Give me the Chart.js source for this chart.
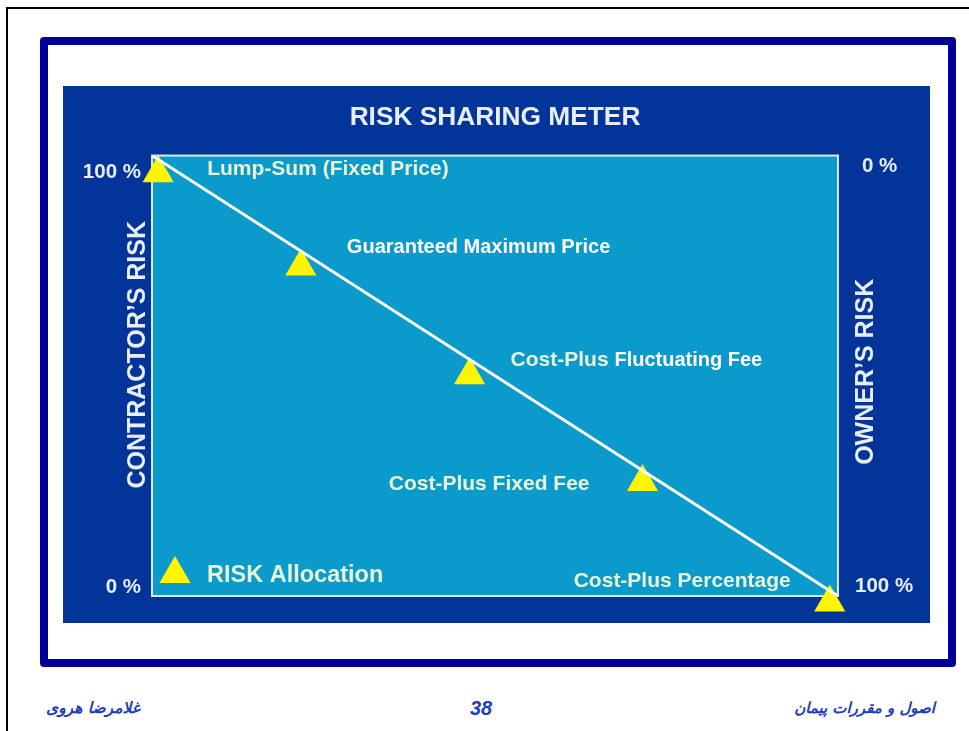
<!DOCTYPE html>
<html>
<head>
<meta charset="utf-8">
<script src="https://cdn.jsdelivr.net/npm/chart.js@4.4.1/dist/chart.umd.min.js"></script>
<style>
  body { margin: 0; background: #fff; width: 969px; height: 731px; overflow: hidden; position: relative; }
  #page { position: absolute; left: 6px; top: 7px; width: 1000px; height: 760px;
          border-top: 2px solid #000; border-left: 2px solid #000; }
  #frame { position: absolute; left: 40px; top: 37px; width: 900px; height: 614px;
           border: 8px solid #000099; border-radius: 4px; }
  #panel { position: absolute; left: 63px; top: 86px; width: 867px; height: 537px; background: #02349A; }
  .foot { position: absolute; top: 696px; line-height: 24px; color: #1E3EC0;
          font-family: "DejaVu Sans", sans-serif; font-weight: bold; font-style: italic; }
</style>
</head>
<body>
<div id="page"></div>
<div id="frame"></div>
<div id="panel"><canvas id="meter" width="867" height="537"></canvas></div>
<div class="foot" style="left:46px; font-size:15.5px;" dir="rtl">غلامرضا هروی</div>
<div class="foot" style="left:470px; font-size:20px; font-family:'Liberation Sans', Arial, sans-serif;">38</div>
<div class="foot" style="right:34px; font-size:15px;" dir="rtl">اصول و مقررات پیمان</div>
<script>
// types de contrat, de gauche (risque entrepreneur max) a droite
const categories = ['Lump-Sum (Fixed Price)', 'Guaranteed Maximum Price', 'Cost-Plus Fluctuating Fee', 'Cost-Plus Fixed Fee', 'Cost-Plus Percentage'];
const positionX = [0.9, 21.7, 46.3, 71.5, 98.8];
const contractorRisk = [96.0, 74.8, 50.1, 25.9, -1.5];

// ligne de partage du risque
const lineX = [0, 100];
const lineY = [100, 0];

// graduations : risque entrepreneur (gauche) et proprietaire (droite)
const contractorTicks = [100, 0];
const contractorTickLabels = ['100 %', '0 %'];
const ownerTicks = [0, 100];
const ownerTickLabels = ['0 %', '100 %'];

const FONT = '"Liberation Sans", Arial, sans-serif';
const PALE = '#E9F3D6';
const WHITE = '#FFFFFF';

const meterDecor = {
  id: 'meterDecor',
  beforeDatasetsDraw(chart, args, opts) {
    const { ctx, chartArea: a } = chart;
    ctx.save();
    ctx.fillStyle = opts.plotColor;
    ctx.fillRect(a.left, a.top, a.width, a.height);
    ctx.strokeStyle = opts.borderColor;
    ctx.lineWidth = 2;
    ctx.strokeRect(a.left, a.top, a.width, a.height);
    ctx.restore();
  },
  afterDatasetsDraw(chart, args, opts) {
    const { ctx, chartArea: a, scales } = chart;
    const y = scales.y;
    ctx.save();
    ctx.textBaseline = 'middle';
    ctx.textAlign = 'left';

    // etiquettes des points (partie pale en 21px, partie blanche en 20px)
    const paleFont = 'bold 21px ' + FONT;
    const whiteFont = 'bold 20px ' + FONT;
    const pts = chart.getDatasetMeta(1).data;
    categories.forEach((t, i) => {
      const st = opts.labels[i];
      const p = pts[i];
      const words = t.split(' ');
      const paleTxt = words.slice(0, st.pale).join(' ');
      const whiteTxt = words.slice(st.pale).join(' ');
      ctx.font = paleFont;
      const wp = paleTxt ? ctx.measureText(paleTxt + (whiteTxt ? ' ' : '')).width : 0;
      ctx.font = whiteFont;
      const ww = whiteTxt ? ctx.measureText(whiteTxt).width : 0;
      let x = p.x + st.dx;
      const ty = p.y + st.dy;
      if (st.align === 'right') x -= wp + ww;
      if (paleTxt) {
        ctx.font = paleFont;
        ctx.fillStyle = PALE;
        ctx.fillText(paleTxt, x, ty);
      }
      if (whiteTxt) {
        ctx.font = whiteFont;
        ctx.fillStyle = WHITE;
        ctx.fillText(whiteTxt, x + wp, ty);
      }
    });

    // graduations
    ctx.font = 'bold 20.5px ' + FONT;
    ctx.fillStyle = '#E8EEF8';
    contractorTicks.forEach((v, i) => {
      ctx.textAlign = 'right';
      ctx.fillText(contractorTickLabels[i], a.left - 11, y.getPixelForValue(v) + opts.leftTickDy[i]);
    });
    ownerTicks.forEach((v, i) => {
      ctx.textAlign = 'left';
      ctx.fillText(ownerTickLabels[i], a.right + opts.rightTickDx[i], y.getPixelForValue(100 - v) + opts.rightTickDy[i]);
    });

    // titres verticaux
    ctx.font = 'bold 25px ' + FONT;
    ctx.textAlign = 'center';
    const mid = y.getPixelForValue(50);
    [['CONTRACTOR\u2019S RISK', a.left - 14, mid - 21], ['OWNER\u2019S RISK', a.right + 28, mid - 4]].forEach(([t, x, yy]) => {
      ctx.save();
      ctx.translate(x, yy);
      ctx.rotate(-Math.PI / 2);
      ctx.fillText(t, 0, 0);
      ctx.restore();
    });

    // legende
    const ds = chart.data.datasets[1];
    const lx = a.left + 23, ly = a.bottom - 22;
    ctx.fillStyle = ds.backgroundColor;
    Chart.helpers.drawPoint(ctx, { pointStyle: 'triangle', radius: ds.pointRadius, rotation: 0, borderWidth: 0 }, lx, ly);
    ctx.font = 'bold 23.5px ' + FONT;
    ctx.textAlign = 'left';
    ctx.fillStyle = PALE;
    ctx.fillText(ds.label, lx + 32, ly + 2);
    ctx.restore();
  }
};

new Chart(document.getElementById('meter'), {
  type: 'scatter',
  data: {
    datasets: [
      {
        label: 'Risk line',
        data: lineX.map((x, i) => ({ x, y: lineY[i] })),
        showLine: true,
        borderColor: '#FFFFFF',
        borderWidth: 3,
        pointRadius: 0
      },
      {
        label: 'RISK Allocation',
        data: positionX.map((x, i) => ({ x, y: contractorRisk[i] })),
        pointStyle: 'triangle',
        pointRadius: 18,
        pointHoverRadius: 18,
        backgroundColor: '#FFF500',
        borderColor: '#FFF500',
        borderWidth: 0,
        clip: false
      }
    ]
  },
  options: {
    responsive: false,
    animation: false,
    events: [],
    layout: { padding: { left: 89, right: 92, bottom: 27, top: 0 } },
    scales: {
      x: { type: 'linear', min: 0, max: 100, display: false },
      y: { type: 'linear', min: 0, max: 100, display: false }
    },
    plugins: {
      legend: { display: false },
      tooltip: { enabled: false },
      title: {
        display: true,
        text: 'RISK SHARING METER',
        color: '#E8EEF8',
        font: { size: 26.3, weight: 'bold', family: FONT },
        padding: { top: 16, bottom: 22 }
      },
      meterDecor: {
        plotColor: '#0A9BCC',
        borderColor: '#DDE9E6',
        labels: [
          { dx: 49, dy: -4, align: 'left', pale: 99 },
          { dx: 46, dy: -19, align: 'left', pale: 0 },
          { dx: 41, dy: -15, align: 'left', pale: 1 },
          { dx: -53, dy: 2, align: 'right', pale: 99 },
          { dx: -39, dy: -21, align: 'right', pale: 99 }
        ],
        leftTickDy: [17, -9],
        rightTickDx: [24, 17],
        rightTickDy: [11, -10]
      }
    }
  },
  plugins: [meterDecor]
});
</script>
</body>
</html>
